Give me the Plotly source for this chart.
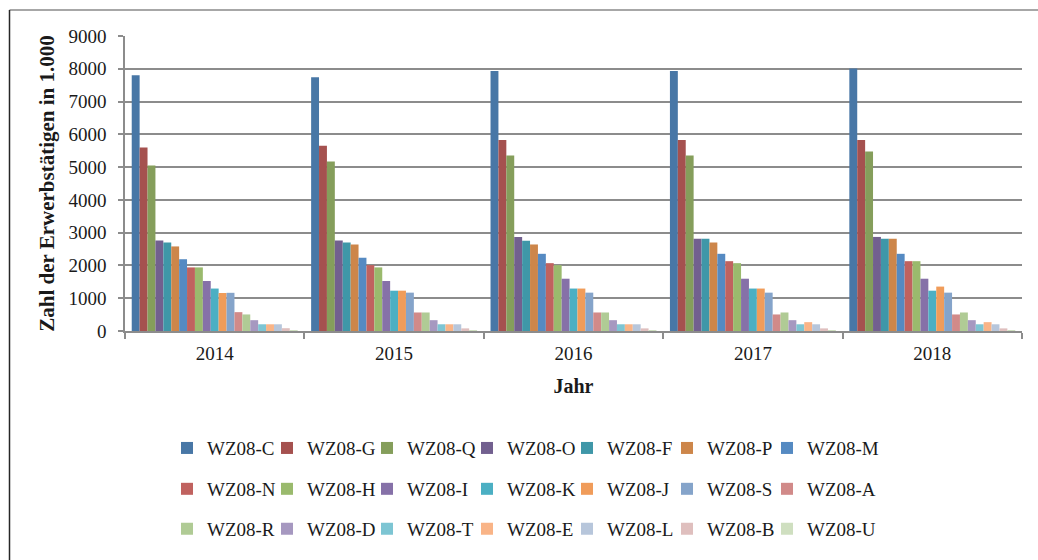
import plotly.graph_objects as go

years = ["2014", "2015", "2016", "2017", "2018"]

series_names = ["WZ08-C", "WZ08-G", "WZ08-Q", "WZ08-O", "WZ08-F", "WZ08-P", "WZ08-M",
                "WZ08-N", "WZ08-H", "WZ08-I", "WZ08-K", "WZ08-J", "WZ08-S", "WZ08-A",
                "WZ08-R", "WZ08-D", "WZ08-T", "WZ08-E", "WZ08-L", "WZ08-B", "WZ08-U"]

wz_c = [7800, 7740, 7935, 7935, 8010]
wz_g = [5600, 5650, 5830, 5830, 5830]
wz_q = [5050, 5170, 5355, 5355, 5475]
wz_o = [2760, 2760, 2870, 2815, 2870]
wz_f = [2700, 2700, 2755, 2815, 2815]
wz_p = [2580, 2640, 2640, 2700, 2815]
wz_m = [2190, 2235, 2355, 2355, 2355]
wz_n = [1940, 2010, 2070, 2130, 2130]
wz_h = [1940, 1940, 2010, 2070, 2130]
wz_i = [1525, 1525, 1595, 1595, 1595]
wz_k = [1295, 1230, 1295, 1295, 1230]
wz_j = [1160, 1230, 1295, 1295, 1355]
wz_s = [1165, 1170, 1170, 1170, 1170]
wz_a = [575, 565, 565, 505, 505]
wz_r = [505, 565, 565, 565, 565]
wz_d = [330, 330, 330, 330, 330]
wz_t = [205, 205, 205, 205, 205]
wz_e = [205, 205, 205, 270, 270]
wz_l = [205, 205, 205, 205, 205]
wz_b = [85, 80, 80, 80, 80]
wz_u = [5, 5, 5, 5, 5]

values = [wz_c, wz_g, wz_q, wz_o, wz_f, wz_p, wz_m, wz_n, wz_h, wz_i, wz_k,
          wz_j, wz_s, wz_a, wz_r, wz_d, wz_t, wz_e, wz_l, wz_b, wz_u]

colors = ["#4877A6", "#A5514F", "#859E5B", "#72608F", "#3F97A8", "#CD864A", "#558AC2",
          "#C0625F", "#9ABA6D", "#8671A8", "#4BAFC3", "#F09C5A", "#85A4CA", "#D18A89",
          "#B0CB95", "#A698C0", "#7DC5D3", "#F9B487", "#B7C6DB", "#DFBFBE", "#CFDFC0"]

FONT = "Liberation Serif"
W, H = 1038, 560
L, R, T, B = 125, 16, 35.5, 228.5
pw, ph = W - L - R, H - T - B

def px2x(px):
    return (px - L) / pw

def px2y(py):
    return (H - B - py) / ph

fig = go.Figure()
legend_ids = ["legend", "legend2", "legend3"]
for i, (name, vals, col) in enumerate(zip(series_names, values, colors)):
    fig.add_trace(go.Bar(
        x=years, y=vals, name=name,
        marker=dict(color=col, line=dict(width=0)),
        legend=legend_ids[i // 7],
    ))
# invisible spacer entries so that the last legend label in each row is not clipped
for lid in legend_ids:
    fig.add_trace(go.Scatter(x=[None], y=[None], mode="markers", name=" ",
                             marker=dict(color="rgba(0,0,0,0)"), legend=lid,
                             hoverinfo="skip"))

row_y = [449, 490, 530]
leg_x = px2x(167)
leg_common = dict(orientation="h", xanchor="left", yanchor="middle",
                  font=dict(family=FONT, size=19, color="#1a1a1a"),
                  entrywidth=55, entrywidthmode="pixels", itemwidth=30,
                  bgcolor="rgba(0,0,0,0)", borderwidth=0, traceorder="normal")

fig.update_layout(
    width=W, height=H,
    margin=dict(l=L, r=R, t=T, b=B, pad=0),
    paper_bgcolor="white", plot_bgcolor="white",
    barmode="group", bargap=0.075, bargroupgap=0,
    font=dict(family=FONT, color="#1a1a1a"),
    legend=dict(x=leg_x, y=px2y(row_y[0]), **leg_common),
    legend2=dict(x=leg_x, y=px2y(row_y[1]), **leg_common),
    legend3=dict(x=leg_x, y=px2y(row_y[2]), **leg_common),
    xaxis=dict(
        type="category",
        showline=True, linecolor="#8c8c8c", linewidth=1.5,
        ticks="outside", tickson="boundaries", ticklen=6, tickcolor="#8c8c8c", tickwidth=1.5,
        tickfont=dict(family=FONT, size=19, color="#1a1a1a"),
        ticklabelstandoff=4,
        showgrid=False,
        title=dict(text="<b>Jahr</b>", font=dict(family=FONT, size=20, color="#1a1a1a"), standoff=16),
    ),
    yaxis=dict(
        range=[0, 9000], dtick=1000, tick0=0,
        showline=True, linecolor="#8c8c8c", linewidth=1.5,
        ticks="outside", ticklen=5, tickcolor="#8c8c8c", tickwidth=1.5,
        showgrid=True, gridcolor="#8c8c8c", gridwidth=1.5,
        zeroline=False,
        tickfont=dict(family=FONT, size=19, color="#1a1a1a"),
        ticklabelstandoff=8,
        title=dict(text="<b>Zahl der Erwerbstätigen in 1.000</b>",
                   font=dict(family=FONT, size=21, color="#1a1a1a"), standoff=8),
    ),
    shapes=[
        dict(type="line", xref="paper", yref="paper",
             x0=px2x(9.5), x1=px2x(1060), y0=px2y(9.5), y1=px2y(9.5),
             line=dict(color="#8a8a8a", width=1.5)),
        dict(type="line", xref="paper", yref="paper",
             x0=px2x(9.5), x1=px2x(9.5), y0=px2y(9.5), y1=px2y(580),
             line=dict(color="#262626", width=1.5)),
    ],
)

fig.write_html("out.html", config={"displayModeBar": False},
               post_script="document.body.style.margin='0';")
